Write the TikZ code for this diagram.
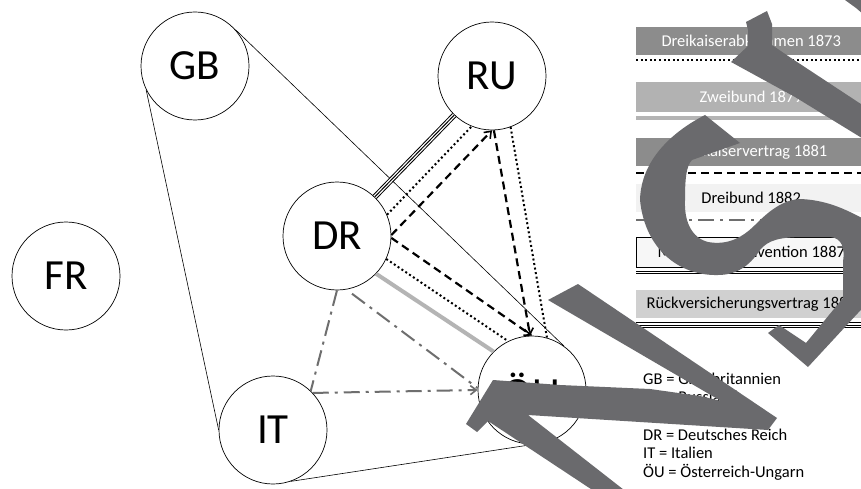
\documentclass[tikz,border=0pt]{standalone}
\usepackage{fontspec}
\setmainfont{Carlito}
\usetikzlibrary{arrows.meta}
\definecolor{ovl}{HTML}{6A6A6D}
\definecolor{boxdark}{HTML}{8C8C8C}
\definecolor{boxmid}{HTML}{B2B2B2}
\definecolor{boxlight}{HTML}{F2F2F2}
\definecolor{boxpale}{HTML}{F7F7F7}
\definecolor{boxgray}{HTML}{D0D0D0}
\definecolor{dd}{HTML}{6E6E6E}
\definecolor{zw}{HTML}{B4B4B4}
\begin{document}
\begin{tikzpicture}[x=1pt,y=-1pt,
  country/.style={circle,draw,line width=0.7pt,minimum size=108pt,inner sep=0pt,font=\fontsize{43}{43}\selectfont},
  thinln/.style={line width=0.6pt},
  dotln/.style={line width=2pt,dash pattern=on 2pt off 2.6pt},
  dashln/.style={line width=2.2pt,dash pattern=on 8pt off 5pt},
  ddln/.style={dd,line width=2pt,dash pattern=on 16pt off 6pt on 3pt off 6pt},
  zwln/.style={zw,line width=4pt},
  tripln/.style={line width=1pt,double,double distance=3.6pt},
  dblln/.style={line width=0.6pt,double,double distance=1.2pt},
  arrtip/.style={-{Straight Barb[length=6pt,width=9pt,line width=1.6pt]}},
  legbox/.style={minimum width=230pt,minimum height=28pt,inner sep=0pt,font=\fontsize{16.5}{18}\selectfont},
  legtxt/.style={anchor=base west,inner sep=0pt,font=\fontsize{16.5}{18}\selectfont},
]
\useasboundingbox (0,0) rectangle (861,489);
\fill[white] (0,0) rectangle (861,489);

% countries
\node[country] (GB) at (195,66) {GB};
\node[country] (FR) at (66,276) {FR};
\node[country] (RU) at (492,76) {RU};
\node[country] (DR) at (337,236) {DR};
\node[country] (IT) at (273,430) {IT};
\node[country] (OU) at (532,390) {ÖU};

% Mittelmeerkonvention (thin hull)
\draw[thinln] (GB.206) -- (IT.180);
\draw[thinln] (GB.42) -- (OU.54);
\draw[thinln] (IT.-71) -- (OU.-88);

% Rueckversicherungsvertrag (triple)
\draw[tripln] (DR.46) -- (RU.226);
\draw[line width=1pt] (DR.46) -- (RU.226);

% Dreikaiserabkommen (dotted)
\draw[dotln] (DR.23) -- (RU.248);
\draw[dotln] (DR.-25) -- (OU.116);
\draw[dotln] (RU.-70) -- (OU.74);

% Dreikaiservertrag (dashed)
\draw[dashln,arrtip] (DR.1) -- (RU.270);
\draw[dashln,arrtip] (DR.-2) -- (OU.90);
\draw[dashln,arrtip] (RU.-88) -- (OU.92);

% Zweibund
\draw[zwln] (DR.-44) -- (OU.135);

% Dreibund
\draw[ddln] (DR.-90) -- (IT.46);
\draw[ddln,shorten <=7pt] (DR.-80) -- (OU.178);
\draw[ddln,arrtip] (IT.43) -- (OU.180);

% legend boxes
\node[legbox,fill=boxdark,text=white,anchor=west] (b1) at (636,41) {Dreikaiserabkommen 1873};
\draw[dotln] ([yshift=-5pt]b1.south west) -- ([yshift=-5pt]b1.south east);
\node[legbox,fill=boxmid,text=white,anchor=west,minimum height=30pt] (b2) at (636,97) {Zweibund 1879};
\draw[zwln] ([yshift=-6pt]b2.south west) -- ([yshift=-6pt]b2.south east);
\node[legbox,fill=boxdark,text=white,anchor=west] (b3) at (636,152) {Dreikaiservertrag 1881};
\draw[dashln] ([yshift=-7pt]b3.south west) -- ([yshift=-7pt]b3.south east);
\node[legbox,fill=boxlight,anchor=west] (b4) at (636,198) {Dreibund 1882};
\draw[ddln] ([yshift=-8pt]b4.south west) -- ([yshift=-8pt]b4.south east);
\node[legbox,fill=boxpale,draw,line width=0.7pt,anchor=west,minimum height=30pt] (b5) at (636,252) {Mittelmeerkonvention 1887};
\draw[dblln] ([yshift=-5pt]b5.south west) -- ([yshift=-5pt]b5.south east);
\node[legbox,fill=boxgray,anchor=west] (b6) at (636,304) {Rückversicherungsvertrag 1887};
\draw[tripln] ([yshift=-7pt]b6.south west) -- ([yshift=-7pt]b6.south east);
\draw[line width=1pt] ([yshift=-7pt]b6.south west) -- ([yshift=-7pt]b6.south east);

% key
\node[legtxt] (k1) at (643,384.3) {GB = Großbritannien};
\node[legtxt] (k2) at (643,402.8) {RU = Russland};
\node[legtxt] (k4) at (643,440.3) {DR = Deutsches Reich};
\node[legtxt] (k5) at (643,458.8) {IT = Italien};
\node[legtxt] (k6) at (643,477.3) {ÖU = Österreich-Ungarn};

% overlay strokes
\fill[ovl] (578,284) -- (777,418) -- (768,430) -- (528,415) -- (633,497) -- (603,497)
  -- (488,421) -- (477,432) -- (466,424) -- (493,380) -- (560,385) -- (650,389)
  -- (700,396) -- (721,401) -- (548,300) -- cycle;
\fill[ovl] (746,22) -- (767,11) -- (772,24) -- (772,45) -- (791,58) -- (870,110)
  -- (870,143) -- (795,97) -- (731,62) -- (748,46) -- (748,30) -- cycle;
\fill[ovl] (845,0) -- (870,0) -- (870,20) -- (856,8) -- cycle;
\fill[ovl] (705,115)
  .. controls (672,132) and (641,160) .. (640,200)
  .. controls (645,250) and (680,276) .. (718,275)
  .. controls (740,275) and (752,262) .. (760,250)
  .. controls (768,240) and (780,237) .. (805,237)
  -- (830,237)
  .. controls (842,238) and (845,248) .. (843,262)
  -- (843,298) -- (806,343) -- (779,325) -- (768,333) -- (808,367)
  -- (870,300) -- (870,222)
  .. controls (850,212) and (830,200) .. (800,199)
  .. controls (782,200) and (768,212) .. (755,225)
  .. controls (740,240) and (725,245) .. (708,242)
  .. controls (692,238) and (684,222) .. (685,200)
  .. controls (685,180) and (686,166) .. (692,160)
  -- (740,143) -- cycle;
\end{tikzpicture}
\end{document}
